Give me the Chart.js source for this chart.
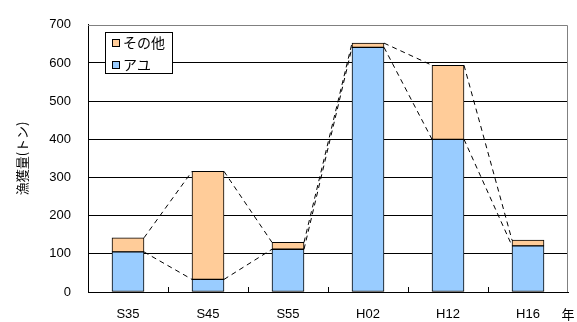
<!DOCTYPE html>
<html>
<head>
<meta charset="utf-8">
<script src="https://cdn.jsdelivr.net/npm/chart.js@4.4.0/dist/chart.umd.min.js"></script>
<style>
  html, body { margin: 0; padding: 0; background: #fff; }
  #wrap { width: 577px; height: 322px; }
</style>
</head>
<body>
<div id="wrap"><canvas id="fishChart" width="577" height="322"></canvas></div>
<script>
// data
const years = ['S35', 'S45', 'S55', 'H02', 'H12', 'H16'];
const ayu = [105, 33, 112, 641, 400, 121];
const others = [37, 283, 18, 11, 194, 15];
const yTicks = [0, 100, 200, 300, 400, 500, 600, 700];

const fontLatin = "'Liberation Sans', Arial, sans-serif";
const fontJp = "'Noto Sans CJK JP', sans-serif";

// Excel style series lines + legend box + extra labels
const decorations = {
    id: 'decorations',
    beforeDatasetsDraw(chart) {
        const { ctx, chartArea: a } = chart;
        ctx.save();
        ctx.strokeStyle = '#808080';
        ctx.lineWidth = 1;
        ctx.beginPath();
        ctx.moveTo(a.left, Math.round(a.top) + 0.5);
        ctx.lineTo(Math.round(a.right) - 0.5, Math.round(a.top) + 0.5);
        ctx.lineTo(Math.round(a.right) - 0.5, a.bottom);
        ctx.stroke();
        ctx.restore();
    },
    afterDatasetsDraw(chart) {
        const { ctx, chartArea: a, scales } = chart;
        ctx.save();
        // small ticks between categories, pointing up
        ctx.strokeStyle = '#000';
        ctx.lineWidth = 1;
        for (let k = 1; k < years.length; k++) {
            const x = Math.round((scales.x.getPixelForValue(k - 1) + scales.x.getPixelForValue(k)) / 2) + 0.5;
            ctx.beginPath();
            ctx.moveTo(x, a.bottom);
            ctx.lineTo(x, a.bottom - 5);
            ctx.stroke();
        }
        // dashed series lines
        ctx.setLineDash([5, 4]);
        chart.data.datasets.forEach((ds, di) => {
            const bars = chart.getDatasetMeta(di).data;
            for (let i = 0; i < bars.length - 1; i++) {
                const p = bars[i].getProps(['x', 'y', 'width'], true);
                const q = bars[i + 1].getProps(['x', 'y', 'width'], true);
                ctx.beginPath();
                ctx.moveTo(p.x + p.width / 2, p.y);
                ctx.lineTo(q.x - q.width / 2, q.y);
                ctx.stroke();
            }
        });
        ctx.setLineDash([]);

        // legend box (reverse order, like the original)
        const lx = 105, ly = 32, lw = 67, lh = 41;
        ctx.fillStyle = '#fff';
        ctx.fillRect(lx, ly, lw, lh);
        ctx.strokeRect(lx + 0.5, ly + 0.5, lw, lh);
        const items = chart.data.datasets.slice().reverse();
        ctx.font = '14px ' + fontJp;
        ctx.textBaseline = 'middle';
        ctx.textAlign = 'left';
        items.forEach((ds, i) => {
            const cy = ly + 11 + i * 22;
            ctx.fillStyle = ds.backgroundColor;
            ctx.fillRect(112, cy - 4, 7, 7);
            ctx.strokeStyle = '#000';
            ctx.strokeRect(112.5, cy - 3.5, 7, 7);
            ctx.fillStyle = '#000';
            ctx.fillText(ds.label, 123, cy);
        });

        // axis title and unit label
        ctx.font = '13px ' + fontJp;
        ctx.textAlign = 'center';
        ctx.save();
        ctx.translate(22, (a.top + a.bottom) / 2);
        ctx.rotate(-Math.PI / 2);
        ctx.fillText('漁獲量(トン)', 0, 0);
        ctx.restore();
        ctx.fillText('年', a.right, 314);
        ctx.restore();
    }
};

new Chart(document.getElementById('fishChart'), {
    type: 'bar',
    data: {
        labels: years,
        datasets: [{
            label: 'アユ',
            data: ayu,
            backgroundColor: '#99CCFF',
            borderColor: '#000',
            borderWidth: 1,
            borderSkipped: false
        }, {
            label: 'その他',
            data: others,
            backgroundColor: '#FFCC99',
            borderColor: '#000',
            borderWidth: 1,
            borderSkipped: false
        }]
    },
    options: {
        responsive: false,
        animation: false,
        datasets: { bar: { barThickness: 32 } },
        layout: { padding: { left: 0, top: 11, right: 9, bottom: 0 } },
        plugins: {
            legend: { display: false },
            tooltip: { enabled: false }
        },
        scales: {
            x: {
                stacked: true,
                grid: { display: false, drawTicks: false },
                border: { display: true, color: '#000' },
                ticks: { color: '#000', padding: 15, font: { family: fontLatin, size: 13 } },
                afterFit(s) { s.height = 30; }
            },
            y: {
                stacked: true,
                min: 0,
                max: 700,
                afterBuildTicks(s) { s.ticks = yTicks.map(v => ({ value: v })); },
                grid: {
                    drawTicks: false,
                    color: ctx => ctx.tick && ctx.tick.value === 700 ? 'rgba(0,0,0,0)' : '#000'
                },
                border: { display: true, color: '#000' },
                ticks: { color: '#000', padding: 17, font: { family: fontLatin, size: 13 } },
                afterFit(s) { s.width = 88; }
            }
        }
    },
    plugins: [decorations]
});
</script>
</body>
</html>
